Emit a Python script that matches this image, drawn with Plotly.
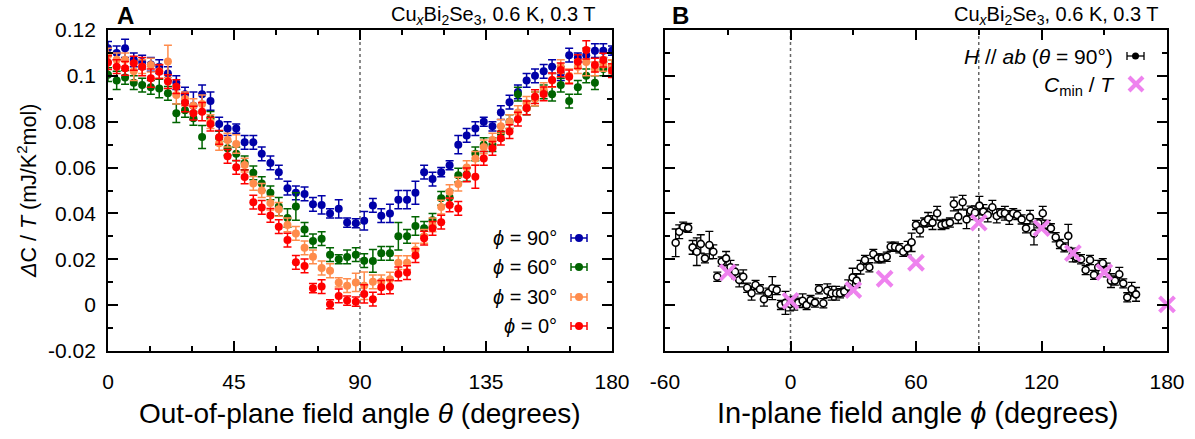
import plotly.graph_objects as go

W, H = 1195, 439
FONT = "Liberation Sans, Arial, sans-serif"

# ---------------- Panel A data ----------------
theta = [0.0, 3.1, 6.1, 9.2, 12.2, 15.3, 18.3, 21.4, 24.4, 27.5, 30.5, 33.6, 36.6, 39.7, 42.7,
         45.8, 48.8, 51.9, 54.9, 58.0, 61.0, 64.1, 67.1, 70.2, 73.2, 76.3, 79.3, 82.4, 85.4, 88.5,
         91.5, 94.6, 97.6, 100.7, 103.7, 106.8, 109.8, 112.9, 115.9, 119.0, 122.0, 125.1, 128.1,
         131.2, 134.2, 137.3, 140.3, 143.4, 146.4, 149.5, 152.5, 155.6, 158.6, 161.7, 164.7,
         167.8, 170.8, 173.9, 176.9, 180.0]

c_phi90 = [0.112, 0.110, 0.112, 0.107, 0.106, 0.105, 0.104, 0.101, 0.097, 0.092,
           0.087, 0.092, 0.089, 0.079, 0.077, 0.077, 0.071, 0.071, 0.066, 0.062,
           0.058, 0.051, 0.049, 0.0485, 0.044, 0.0437, 0.040, 0.042, 0.036, 0.0357,
           0.0368, 0.0435, 0.039, 0.040, 0.046, 0.046, 0.049, 0.058, 0.055, 0.058,
           0.061, 0.070, 0.074, 0.077, 0.080, 0.078, 0.084, 0.0885, 0.093, 0.098,
           0.100, 0.102, 0.104, 0.101, 0.109, 0.108, 0.109, 0.111, 0.111, 0.111]
e_phi90 = [0.003, 0.003, 0.004, 0.003, 0.003, 0.003, 0.003, 0.003, 0.003, 0.003,
           0.006, 0.004, 0.004, 0.003, 0.003, 0.002, 0.003, 0.003, 0.003, 0.003,
           0.003, 0.003, 0.003, 0.003, 0.003, 0.004, 0.002, 0.004, 0.002, 0.002,
           0.004, 0.003, 0.003, 0.004, 0.004, 0.004, 0.005, 0.003, 0.003, 0.002,
           0.002, 0.004, 0.003, 0.003, 0.002, 0.002, 0.003, 0.003, 0.003, 0.003,
           0.003, 0.003, 0.003, 0.003, 0.003, 0.002, 0.003, 0.003, 0.003, 0.002]

c_phi60 = [0.1005, 0.098, 0.0993, 0.097, 0.096, 0.095, 0.0945, 0.0924, 0.0837, 0.085,
           0.0815, 0.0733, 0.0815, 0.073, 0.0684, 0.066, 0.062, 0.0577, 0.053, 0.049,
           0.043, 0.038, 0.043, 0.033, 0.028, 0.029, 0.022, 0.020, 0.021, 0.022,
           0.0194, 0.0193, 0.0226, 0.0226, 0.030, 0.030, 0.0345, 0.0335, 0.037, 0.0466,
           0.047, 0.0567, 0.057, 0.066, 0.070, 0.070, 0.075, 0.080, 0.092, 0.086,
           0.090, 0.093, 0.092, 0.096, 0.089, 0.095, 0.100, 0.097, 0.103, 0.104]
e_phi60 = [0.003, 0.004, 0.003, 0.003, 0.003, 0.003, 0.004, 0.003, 0.004, 0.003,
           0.003, 0.005, 0.003, 0.003, 0.003, 0.003, 0.003, 0.003, 0.003, 0.003,
           0.004, 0.004, 0.006, 0.003, 0.003, 0.003, 0.003, 0.002, 0.003, 0.003,
           0.003, 0.005, 0.003, 0.003, 0.006, 0.003, 0.004, 0.003, 0.003, 0.003,
           0.003, 0.003, 0.003, 0.003, 0.003, 0.003, 0.003, 0.003, 0.003, 0.003,
           0.003, 0.003, 0.003, 0.003, 0.003, 0.003, 0.003, 0.003, 0.003, 0.003]

c_phi30 = [0.109, 0.107, 0.107, 0.102, 0.104, 0.1047, 0.102, 0.1063, 0.0917, 0.090,
           0.087, 0.0877, 0.080, 0.0706, 0.072, 0.0703, 0.0611, 0.0531, 0.050, 0.0445,
           0.0418, 0.035, 0.0313, 0.025, 0.0211, 0.0162, 0.015, 0.0099, 0.0085, 0.0099,
           0.0085, 0.0102, 0.0102, 0.0113, 0.0185, 0.0185, 0.024, 0.030, 0.035, 0.0428,
           0.0495, 0.0528, 0.060, 0.064, 0.069, 0.072, 0.078, 0.080, 0.084, 0.088,
           0.090, 0.094, 0.098, 0.104, 0.100, 0.104, 0.106, 0.103, 0.105, 0.104]
e_phi30 = [0.003, 0.003, 0.003, 0.004, 0.003, 0.003, 0.003, 0.007, 0.004, 0.003,
           0.003, 0.004, 0.003, 0.003, 0.003, 0.004, 0.003, 0.003, 0.003, 0.003,
           0.003, 0.003, 0.003, 0.003, 0.003, 0.003, 0.003, 0.002, 0.003, 0.004,
           0.006, 0.003, 0.003, 0.003, 0.003, 0.003, 0.003, 0.003, 0.003, 0.003,
           0.003, 0.003, 0.003, 0.003, 0.003, 0.003, 0.003, 0.003, 0.003, 0.003,
           0.003, 0.003, 0.003, 0.003, 0.003, 0.003, 0.006, 0.003, 0.003, 0.003]

c_phi0 = [0.1058, 0.104, 0.1033, 0.1055, 0.104, 0.099, 0.1018, 0.0975, 0.0953, 0.0883,
          0.0837, 0.0844, 0.079, 0.0732, 0.0649, 0.0601, 0.0559, 0.0449, 0.0426, 0.0391,
          0.0342, 0.0284, 0.0187, 0.0171, 0.0074, 0.0081, 0.0004, 0.0040, 0.0020, 0.0015,
          0.0049, 0.0026, 0.0078, 0.0080, 0.0136, 0.0142, 0.0216, 0.0292, 0.0335, 0.0362,
          0.0437, 0.0422, 0.0568, 0.056, 0.064, 0.0684, 0.0728, 0.0757, 0.0811, 0.086,
          0.0909, 0.0921, 0.0982, 0.1026, 0.0996, 0.1062, 0.1113, 0.1047, 0.1069, 0.1023]
e_phi0 = [0.003, 0.003, 0.003, 0.003, 0.004, 0.004, 0.003, 0.003, 0.003, 0.004,
          0.003, 0.004, 0.003, 0.003, 0.003, 0.003, 0.003, 0.003, 0.003, 0.003,
          0.003, 0.003, 0.003, 0.003, 0.002, 0.003, 0.002, 0.003, 0.002, 0.002,
          0.004, 0.003, 0.003, 0.003, 0.003, 0.003, 0.003, 0.003, 0.003, 0.003,
          0.003, 0.003, 0.003, 0.005, 0.003, 0.003, 0.003, 0.003, 0.003, 0.003,
          0.003, 0.003, 0.003, 0.003, 0.003, 0.003, 0.004, 0.003, 0.003, 0.003]

series_names = ["<i>ϕ</i> = 90°", "<i>ϕ</i> = 60°", "<i>ϕ</i> = 30°", "<i>ϕ</i> = 0°"]
series_vals = [c_phi90, c_phi60, c_phi30, c_phi0]
series_errs = [e_phi90, e_phi60, e_phi30, e_phi0]
series_cols = ["#0000a8", "#006400", "#ff8c4c", "#ff0000"]

# ---------------- Panel B data ----------------
phi_ab = [-54.9, -53.2, -51.3, -48.9, -46.8, -44.8, -42.9, -40.9, -38.8, -36.9, -35.0, -32.9,
          -30.8, -28.7, -26.5, -24.5, -22.6, -20.7, -18.6, -16.7, -14.6, -12.7, -10.6, -8.7,
          -6.6, -4.6, -2.4, -0.2, 1.8, 3.7, 5.8, 7.7, 9.6, 11.7, 13.6, 15.7, 17.6, 19.7, 21.8,
          23.7, 25.7, 27.6, 29.7, 31.6, 33.5, 35.6, 37.7, 39.6, 41.7, 43.6, 46.0, 47.9, 50.0,
          52.0, 53.9, 56.0, 57.9, 60.0, 61.9, 63.9, 65.8, 67.9, 70.1, 72.2, 74.1, 76.2, 78.1,
          80.2, 82.3, 84.2, 86.1, 88.2, 90.3, 92.2, 94.3, 96.5, 98.6, 100.5, 102.5, 104.6,
          106.5, 108.4, 110.5, 112.6, 114.5, 116.4, 118.5, 120.6, 122.5, 124.5, 126.8, 128.8,
          130.9, 132.8, 134.9, 136.8, 138.9, 141.1, 143.2, 145.1, 147.1, 149.3, 151.2, 153.2,
          155.1, 157.2, 159.1, 161.0, 163.1, 165.2]
c_ab = [0.0272, 0.0320, 0.0342, 0.0337, 0.0252, 0.0233, 0.0267, 0.0204, 0.0262, 0.0233, 0.0124,
        0.0190, 0.0204, 0.0165, 0.0146, 0.0110, 0.0124, 0.0076, 0.0052, 0.0088, 0.0069, 0.0026,
        0.0054, 0.0074, 0.0066, 0.0001, 0.0010, 0.0005, 0.0008, 0.0011, 0.0019, 0.0001, 0.0022,
        0.0011, 0.0069, 0.0008, 0.0063, 0.0052, 0.0052, 0.0052, 0.0059, 0.0080, 0.0121, 0.0107,
        0.0165, 0.0197, 0.0165, 0.0223, 0.0204, 0.0204, 0.0211, 0.0255, 0.0255, 0.0248, 0.0233,
        0.0248, 0.0274, 0.0350, 0.0328, 0.0360, 0.0374, 0.0360, 0.0401, 0.0350, 0.0354, 0.0360,
        0.0441, 0.0386, 0.0449, 0.0374, 0.0412, 0.0403, 0.0434, 0.0408, 0.0393, 0.0427, 0.0389,
        0.0401, 0.0401, 0.0382, 0.0401, 0.0393, 0.0374, 0.0335, 0.0383, 0.0313, 0.0357, 0.0401,
        0.0350, 0.0335, 0.0296, 0.0267, 0.0252, 0.0302, 0.0219, 0.0209, 0.0200, 0.0153, 0.0197,
        0.0132, 0.0165, 0.0183, 0.0153, 0.0107, 0.0107, 0.0135, 0.0095, 0.0034, 0.0069, 0.0047]
e_ab = [0.006, 0.003, 0.002, 0.002, 0.003, 0.006, 0.004, 0.002, 0.006, 0.003, 0.002, 0.002,
        0.003, 0.003, 0.003, 0.003, 0.003, 0.002, 0.003, 0.002, 0.002, 0.003, 0.002, 0.005,
        0.002, 0.002, 0.005, 0.003, 0.003, 0.002, 0.003, 0.002, 0.002, 0.002, 0.002, 0.002,
        0.003, 0.003, 0.003, 0.002, 0.002, 0.003, 0.004, 0.003, 0.003, 0.002, 0.002, 0.002,
        0.002, 0.002, 0.002, 0.002, 0.002, 0.002, 0.002, 0.003, 0.004, 0.002, 0.003, 0.002,
        0.003, 0.003, 0.003, 0.002, 0.002, 0.002, 0.003, 0.003, 0.003, 0.004, 0.002, 0.003,
        0.004, 0.003, 0.003, 0.003, 0.003, 0.002, 0.003, 0.003, 0.002, 0.002, 0.002, 0.002,
        0.003, 0.005, 0.002, 0.003, 0.002, 0.002, 0.002, 0.002, 0.002, 0.005, 0.003, 0.002,
        0.002, 0.002, 0.002, 0.002, 0.003, 0.002, 0.003, 0.003, 0.002, 0.003, 0.002, 0.002,
        0.003, 0.003]

phi_min = [-30, 0, 30, 45, 60, 90, 120, 135, 150, 180]
c_min = [0.0143, 0.0019, 0.0066, 0.0115, 0.0185, 0.0360, 0.0336, 0.0227, 0.0144, 0.0003]

y_ticks = [-0.02, 0, 0.02, 0.04, 0.06, 0.08, 0.1, 0.12]
y_ticktext = ["-0.02", "0", "0.02", "0.04", "0.06", "0.08", "0.1", "0.12"]
x2_ticks = [-60, 0, 60, 120, 180]
x2_ticktext = ["-60", "0", "60", "120", "180"]

# ---------------- geometry helpers ----------------
def px(x):
    return x / W

def py(y):
    return 1 - y / H

fig = go.Figure()

for name, vals, errs, col in zip(series_names, series_vals, series_errs, series_cols):
    fig.add_trace(go.Scatter(
        x=theta, y=vals, mode="markers", name=name, xaxis="x", yaxis="y",
        marker=dict(color=col, size=8, line=dict(width=0)),
        error_y=dict(type="data", array=errs, color=col, thickness=1.5, width=4),
        showlegend=False))

fig.add_trace(go.Scatter(
    x=phi_ab, y=c_ab, mode="markers", xaxis="x2", yaxis="y2", showlegend=False,
    marker=dict(color="white", size=7, symbol="circle", line=dict(color="black", width=1.6)),
    error_y=dict(type="data", array=e_ab, color="black", thickness=1.3, width=4)))

fig.add_trace(go.Scatter(
    x=phi_min, y=c_min, mode="markers", xaxis="x2", yaxis="y2", showlegend=False,
    cliponaxis=False,
    marker=dict(symbol="x-thin", size=15, color="#ee82ee", line=dict(color="#ee82ee", width=4))))

axis_common = dict(showline=True, linecolor="black", linewidth=1.8, mirror="ticks",
                   ticks="inside", ticklen=10, tickwidth=1.5, tickcolor="black",
                   showgrid=False, zeroline=False, automargin=False,
                   tickfont=dict(family=FONT, size=21, color="black"))

ydom = [py(351), py(30)]
fig.update_layout(
    width=W, height=H, margin=dict(l=0, r=0, t=0, b=0, autoexpand=False),
    paper_bgcolor="white", plot_bgcolor="white",
    xaxis=dict(domain=[px(108), px(612)], range=[0, 180], tick0=0, dtick=45,
               anchor="y", ticklabelstandoff=11,
               minor=dict(dtick=15, ticklen=5, tickwidth=1.5, tickcolor="black", ticks="inside"),
               **axis_common),
    yaxis=dict(domain=ydom, range=[-0.02, 0.12], tickvals=y_ticks, ticktext=y_ticktext,
               anchor="x", ticklabelstandoff=6,
               minor=dict(dtick=0.01, ticklen=5, tickwidth=1.5, tickcolor="black", ticks="inside"),
               **axis_common),
    xaxis2=dict(domain=[px(665), px(1167)], range=[-60, 180], tickvals=x2_ticks,
                ticktext=x2_ticktext, anchor="y2", ticklabelstandoff=11,
                minor=dict(dtick=30, tick0=0, ticklen=5, tickwidth=1.5, tickcolor="black",
                           ticks="inside"),
                **axis_common),
    yaxis2=dict(domain=ydom, range=[-0.02, 0.12], tickvals=y_ticks, showticklabels=False,
                anchor="x2",
                minor=dict(dtick=0.01, ticklen=5, tickwidth=1.5, tickcolor="black", ticks="inside"),
                **axis_common),
)

# dotted reference lines
for xref, yref, xv in [("x", "y domain", 90), ("x2", "y2 domain", 0), ("x2", "y2 domain", 90)]:
    fig.add_shape(type="line", xref=xref, yref=yref, x0=xv, x1=xv, y0=0, y1=1,
                  line=dict(color="#666666", width=1.5, dash="dot"), layer="below")

ann = []
def text(x, y, s, size=20, xanchor="center", angle=0):
    ann.append(dict(x=px(x), y=py(y), xref="paper", yref="paper", text=s, showarrow=False,
                    xanchor=xanchor, yanchor="middle", textangle=angle,
                    font=dict(family=FONT, size=size, color="black")))

title_txt = "Cu<sub><i>x</i></sub>Bi<sub>2</sub>Se<sub>3</sub>, 0.6 K, 0.3 T"
text(125, 16, "<b>A</b>", size=24)
text(680, 16, "<b>B</b>", size=24)
text(598, 16, title_txt, size=20, xanchor="right")
text(1161, 16, title_txt, size=20, xanchor="right")
text(360, 413, "Out-of-plane field angle <i>θ</i> (degrees)", size=28)
text(917, 413, "In-plane field angle <i>ϕ</i> (degrees)", size=29)
text(27, 191, "<i>Δ</i>C / <i>T</i> (mJ/K<sup>2</sup>mol)", size=21.5, angle=-90)

# legend panel A (text left of glyph, as in original)
leg_y = [238, 267, 297, 326]
for name, col, yy in zip(series_names, series_cols, leg_y):
    text(559, yy, name, size=20, xanchor="right")
    fig.add_shape(type="line", xref="paper", yref="paper", x0=px(571), x1=px(587),
                  y0=py(yy), y1=py(yy), line=dict(color=col, width=1.5))
    for xe in (571, 587):
        fig.add_shape(type="line", xref="paper", yref="paper", x0=px(xe), x1=px(xe),
                      y0=py(yy - 4), y1=py(yy + 4), line=dict(color=col, width=1.5))
    fig.add_shape(type="circle", xref="paper", yref="paper", x0=px(575), x1=px(583),
                  y0=py(yy + 4), y1=py(yy - 4), fillcolor=col, line=dict(color=col, width=0))

# legend panel B
text(1115, 57, "<i>H</i> // <i>ab</i> (<i>θ</i> = 90°)", size=21, xanchor="right")
text(1117, 86, "<i>C</i><sub>min</sub> / <i>T</i>", size=21, xanchor="right")
fig.add_shape(type="line", xref="paper", yref="paper", x0=px(1127), x1=px(1144),
              y0=py(56), y1=py(56), line=dict(color="black", width=1.3))
for xe in (1127, 1144):
    fig.add_shape(type="line", xref="paper", yref="paper", x0=px(xe), x1=px(xe),
                  y0=py(52), y1=py(60), line=dict(color="black", width=1.3))
fig.add_shape(type="circle", xref="paper", yref="paper", x0=px(1132), x1=px(1139),
              y0=py(59.5), y1=py(52.5), fillcolor="black", line=dict(color="black", width=0))
for (xa, ya, xb, yb) in [(1129, 77, 1143, 91), (1129, 91, 1143, 77)]:
    fig.add_shape(type="line", xref="paper", yref="paper", x0=px(xa), x1=px(xb),
                  y0=py(ya), y1=py(yb), line=dict(color="#ee82ee", width=4))

fig.update_layout(annotations=ann)
fig.write_html("out.html", config={"displayModeBar": False},
               post_script="document.body.style.margin='0';")
